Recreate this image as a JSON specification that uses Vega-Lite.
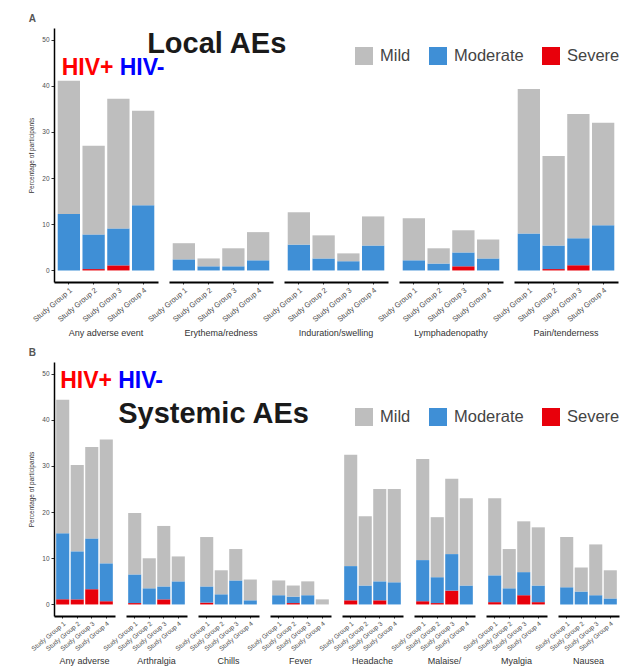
{
  "$schema": "https://vega.github.io/schema/vega-lite/v6.json",
  "background": "white",
  "padding": {"left": 28, "top": 14, "right": 0, "bottom": 0},
  "config": {
    "view": {"stroke": null},
    "font": "Liberation Sans",
    "axisY": {
      "grid": false,
      "domainColor": "#000000",
      "domainWidth": 1.5,
      "tickColor": "#333333",
      "tickSize": 3,
      "labelFontSize": 6.5,
      "labelColor": "#4d4d4d",
      "labelPadding": 2,
      "titleFontSize": 6.5,
      "titleFontWeight": "normal",
      "titleColor": "#333333",
      "titlePadding": 7
    },
    "axisX": {
      "grid": false,
      "domainColor": "#000000",
      "domainWidth": 2,
      "tickColor": "#333333",
      "tickSize": 2,
      "labelAngle": -40,
      "labelColor": "#4d4d4d",
      "labelPadding": 2,
      "title": null
    },
    "header": {
      "labelOrient": "bottom",
      "labelFontSize": 9,
      "labelColor": "#333333"
    },
    "title": {"anchor": "start", "frame": "bounds", "fontSize": 10, "fontWeight": "bold", "color": "#555555", "offset": 4}
  },
  "datasets": {
    "local": [
      {"category": "Any adverse event", "group": "Study Group 1", "severity": "Moderate", "pct": 12.2},
      {"category": "Any adverse event", "group": "Study Group 1", "severity": "Mild", "pct": 28.9},
      {"category": "Any adverse event", "group": "Study Group 2", "severity": "Severe", "pct": 0.3},
      {"category": "Any adverse event", "group": "Study Group 2", "severity": "Moderate", "pct": 7.5},
      {"category": "Any adverse event", "group": "Study Group 2", "severity": "Mild", "pct": 19.2},
      {"category": "Any adverse event", "group": "Study Group 3", "severity": "Severe", "pct": 1.1},
      {"category": "Any adverse event", "group": "Study Group 3", "severity": "Moderate", "pct": 8.0},
      {"category": "Any adverse event", "group": "Study Group 3", "severity": "Mild", "pct": 28.1},
      {"category": "Any adverse event", "group": "Study Group 4", "severity": "Moderate", "pct": 14.1},
      {"category": "Any adverse event", "group": "Study Group 4", "severity": "Mild", "pct": 20.5},
      {"category": "Erythema/redness", "group": "Study Group 1", "severity": "Moderate", "pct": 2.4},
      {"category": "Erythema/redness", "group": "Study Group 1", "severity": "Mild", "pct": 3.5},
      {"category": "Erythema/redness", "group": "Study Group 2", "severity": "Moderate", "pct": 0.9},
      {"category": "Erythema/redness", "group": "Study Group 2", "severity": "Mild", "pct": 1.7},
      {"category": "Erythema/redness", "group": "Study Group 3", "severity": "Moderate", "pct": 0.9},
      {"category": "Erythema/redness", "group": "Study Group 3", "severity": "Mild", "pct": 3.9},
      {"category": "Erythema/redness", "group": "Study Group 4", "severity": "Moderate", "pct": 2.2},
      {"category": "Erythema/redness", "group": "Study Group 4", "severity": "Mild", "pct": 6.1},
      {"category": "Induration/swelling", "group": "Study Group 1", "severity": "Moderate", "pct": 5.6},
      {"category": "Induration/swelling", "group": "Study Group 1", "severity": "Mild", "pct": 7.0},
      {"category": "Induration/swelling", "group": "Study Group 2", "severity": "Moderate", "pct": 2.6},
      {"category": "Induration/swelling", "group": "Study Group 2", "severity": "Mild", "pct": 5.0},
      {"category": "Induration/swelling", "group": "Study Group 3", "severity": "Moderate", "pct": 2.0},
      {"category": "Induration/swelling", "group": "Study Group 3", "severity": "Mild", "pct": 1.7},
      {"category": "Induration/swelling", "group": "Study Group 4", "severity": "Moderate", "pct": 5.4},
      {"category": "Induration/swelling", "group": "Study Group 4", "severity": "Mild", "pct": 6.3},
      {"category": "Lymphadenopathy", "group": "Study Group 1", "severity": "Moderate", "pct": 2.2},
      {"category": "Lymphadenopathy", "group": "Study Group 1", "severity": "Mild", "pct": 9.1},
      {"category": "Lymphadenopathy", "group": "Study Group 2", "severity": "Moderate", "pct": 1.5},
      {"category": "Lymphadenopathy", "group": "Study Group 2", "severity": "Mild", "pct": 3.3},
      {"category": "Lymphadenopathy", "group": "Study Group 3", "severity": "Severe", "pct": 0.9},
      {"category": "Lymphadenopathy", "group": "Study Group 3", "severity": "Moderate", "pct": 3.0},
      {"category": "Lymphadenopathy", "group": "Study Group 3", "severity": "Mild", "pct": 4.8},
      {"category": "Lymphadenopathy", "group": "Study Group 4", "severity": "Moderate", "pct": 2.6},
      {"category": "Lymphadenopathy", "group": "Study Group 4", "severity": "Mild", "pct": 4.1},
      {"category": "Pain/tenderness", "group": "Study Group 1", "severity": "Moderate", "pct": 8.0},
      {"category": "Pain/tenderness", "group": "Study Group 1", "severity": "Mild", "pct": 31.3},
      {"category": "Pain/tenderness", "group": "Study Group 2", "severity": "Severe", "pct": 0.3},
      {"category": "Pain/tenderness", "group": "Study Group 2", "severity": "Moderate", "pct": 5.1},
      {"category": "Pain/tenderness", "group": "Study Group 2", "severity": "Mild", "pct": 19.4},
      {"category": "Pain/tenderness", "group": "Study Group 3", "severity": "Severe", "pct": 1.1},
      {"category": "Pain/tenderness", "group": "Study Group 3", "severity": "Moderate", "pct": 5.9},
      {"category": "Pain/tenderness", "group": "Study Group 3", "severity": "Mild", "pct": 26.9},
      {"category": "Pain/tenderness", "group": "Study Group 4", "severity": "Moderate", "pct": 9.8},
      {"category": "Pain/tenderness", "group": "Study Group 4", "severity": "Mild", "pct": 22.2}
    ],
    "systemic": [
      {"category": "Any adverse event", "group": "Study Group 1", "severity": "Severe", "pct": 1.1},
      {"category": "Any adverse event", "group": "Study Group 1", "severity": "Moderate", "pct": 14.3},
      {"category": "Any adverse event", "group": "Study Group 1", "severity": "Mild", "pct": 28.9},
      {"category": "Any adverse event", "group": "Study Group 2", "severity": "Severe", "pct": 1.1},
      {"category": "Any adverse event", "group": "Study Group 2", "severity": "Moderate", "pct": 10.4},
      {"category": "Any adverse event", "group": "Study Group 2", "severity": "Mild", "pct": 18.7},
      {"category": "Any adverse event", "group": "Study Group 3", "severity": "Severe", "pct": 3.3},
      {"category": "Any adverse event", "group": "Study Group 3", "severity": "Moderate", "pct": 11.0},
      {"category": "Any adverse event", "group": "Study Group 3", "severity": "Mild", "pct": 19.8},
      {"category": "Any adverse event", "group": "Study Group 4", "severity": "Severe", "pct": 0.7},
      {"category": "Any adverse event", "group": "Study Group 4", "severity": "Moderate", "pct": 8.2},
      {"category": "Any adverse event", "group": "Study Group 4", "severity": "Mild", "pct": 26.8},
      {"category": "Arthralgia", "group": "Study Group 1", "severity": "Severe", "pct": 0.3},
      {"category": "Arthralgia", "group": "Study Group 1", "severity": "Moderate", "pct": 6.2},
      {"category": "Arthralgia", "group": "Study Group 1", "severity": "Mild", "pct": 13.3},
      {"category": "Arthralgia", "group": "Study Group 2", "severity": "Moderate", "pct": 3.5},
      {"category": "Arthralgia", "group": "Study Group 2", "severity": "Mild", "pct": 6.5},
      {"category": "Arthralgia", "group": "Study Group 3", "severity": "Severe", "pct": 1.1},
      {"category": "Arthralgia", "group": "Study Group 3", "severity": "Moderate", "pct": 2.8},
      {"category": "Arthralgia", "group": "Study Group 3", "severity": "Mild", "pct": 13.1},
      {"category": "Arthralgia", "group": "Study Group 4", "severity": "Moderate", "pct": 5.0},
      {"category": "Arthralgia", "group": "Study Group 4", "severity": "Mild", "pct": 5.4},
      {"category": "Chills", "group": "Study Group 1", "severity": "Severe", "pct": 0.4},
      {"category": "Chills", "group": "Study Group 1", "severity": "Moderate", "pct": 3.5},
      {"category": "Chills", "group": "Study Group 1", "severity": "Mild", "pct": 10.7},
      {"category": "Chills", "group": "Study Group 2", "severity": "Moderate", "pct": 2.2},
      {"category": "Chills", "group": "Study Group 2", "severity": "Mild", "pct": 5.2},
      {"category": "Chills", "group": "Study Group 3", "severity": "Moderate", "pct": 5.2},
      {"category": "Chills", "group": "Study Group 3", "severity": "Mild", "pct": 6.8},
      {"category": "Chills", "group": "Study Group 4", "severity": "Moderate", "pct": 0.9},
      {"category": "Chills", "group": "Study Group 4", "severity": "Mild", "pct": 4.5},
      {"category": "Fever", "group": "Study Group 1", "severity": "Moderate", "pct": 2.0},
      {"category": "Fever", "group": "Study Group 1", "severity": "Mild", "pct": 3.2},
      {"category": "Fever", "group": "Study Group 2", "severity": "Severe", "pct": 0.3},
      {"category": "Fever", "group": "Study Group 2", "severity": "Moderate", "pct": 1.4},
      {"category": "Fever", "group": "Study Group 2", "severity": "Mild", "pct": 2.4},
      {"category": "Fever", "group": "Study Group 3", "severity": "Moderate", "pct": 2.0},
      {"category": "Fever", "group": "Study Group 3", "severity": "Mild", "pct": 3.0},
      {"category": "Fever", "group": "Study Group 4", "severity": "Mild", "pct": 1.1},
      {"category": "Headache", "group": "Study Group 1", "severity": "Severe", "pct": 0.9},
      {"category": "Headache", "group": "Study Group 1", "severity": "Moderate", "pct": 7.4},
      {"category": "Headache", "group": "Study Group 1", "severity": "Mild", "pct": 24.1},
      {"category": "Headache", "group": "Study Group 2", "severity": "Moderate", "pct": 4.1},
      {"category": "Headache", "group": "Study Group 2", "severity": "Mild", "pct": 15.0},
      {"category": "Headache", "group": "Study Group 3", "severity": "Severe", "pct": 0.9},
      {"category": "Headache", "group": "Study Group 3", "severity": "Moderate", "pct": 4.1},
      {"category": "Headache", "group": "Study Group 3", "severity": "Mild", "pct": 20.0},
      {"category": "Headache", "group": "Study Group 4", "severity": "Moderate", "pct": 4.8},
      {"category": "Headache", "group": "Study Group 4", "severity": "Mild", "pct": 20.2},
      {"category": "Malaise/fatigue", "group": "Study Group 1", "severity": "Severe", "pct": 0.7},
      {"category": "Malaise/fatigue", "group": "Study Group 1", "severity": "Moderate", "pct": 8.9},
      {"category": "Malaise/fatigue", "group": "Study Group 1", "severity": "Mild", "pct": 21.9},
      {"category": "Malaise/fatigue", "group": "Study Group 2", "severity": "Severe", "pct": 0.3},
      {"category": "Malaise/fatigue", "group": "Study Group 2", "severity": "Moderate", "pct": 5.6},
      {"category": "Malaise/fatigue", "group": "Study Group 2", "severity": "Mild", "pct": 13.0},
      {"category": "Malaise/fatigue", "group": "Study Group 3", "severity": "Severe", "pct": 3.0},
      {"category": "Malaise/fatigue", "group": "Study Group 3", "severity": "Moderate", "pct": 7.9},
      {"category": "Malaise/fatigue", "group": "Study Group 3", "severity": "Mild", "pct": 16.3},
      {"category": "Malaise/fatigue", "group": "Study Group 4", "severity": "Moderate", "pct": 4.1},
      {"category": "Malaise/fatigue", "group": "Study Group 4", "severity": "Mild", "pct": 18.9},
      {"category": "Myalgia", "group": "Study Group 1", "severity": "Severe", "pct": 0.5},
      {"category": "Myalgia", "group": "Study Group 1", "severity": "Moderate", "pct": 5.8},
      {"category": "Myalgia", "group": "Study Group 1", "severity": "Mild", "pct": 16.7},
      {"category": "Myalgia", "group": "Study Group 2", "severity": "Moderate", "pct": 3.5},
      {"category": "Myalgia", "group": "Study Group 2", "severity": "Mild", "pct": 8.5},
      {"category": "Myalgia", "group": "Study Group 3", "severity": "Severe", "pct": 2.0},
      {"category": "Myalgia", "group": "Study Group 3", "severity": "Moderate", "pct": 5.0},
      {"category": "Myalgia", "group": "Study Group 3", "severity": "Mild", "pct": 11.0},
      {"category": "Myalgia", "group": "Study Group 4", "severity": "Severe", "pct": 0.5},
      {"category": "Myalgia", "group": "Study Group 4", "severity": "Moderate", "pct": 3.6},
      {"category": "Myalgia", "group": "Study Group 4", "severity": "Mild", "pct": 12.6},
      {"category": "Nausea", "group": "Study Group 1", "severity": "Moderate", "pct": 3.7},
      {"category": "Nausea", "group": "Study Group 1", "severity": "Mild", "pct": 10.9},
      {"category": "Nausea", "group": "Study Group 2", "severity": "Moderate", "pct": 2.8},
      {"category": "Nausea", "group": "Study Group 2", "severity": "Mild", "pct": 5.2},
      {"category": "Nausea", "group": "Study Group 3", "severity": "Moderate", "pct": 2.0},
      {"category": "Nausea", "group": "Study Group 3", "severity": "Mild", "pct": 11.0},
      {"category": "Nausea", "group": "Study Group 4", "severity": "Moderate", "pct": 1.3},
      {"category": "Nausea", "group": "Study Group 4", "severity": "Mild", "pct": 6.1}
    ]
  },
  "resolve": {"legend": {"color": "independent"}},
  "spacing": 10,
  "vconcat": [
    {
      "data": {"name": "local"},
      "title": {"text": "A"},
      "bounds": "flush",
      "facet": {
        "column": {
          "field": "category",
          "type": "nominal",
          "sort": ["Any adverse event", "Erythema/redness", "Induration/swelling", "Lymphadenopathy", "Pain/tenderness"],
          "header": {"title": null, "labelPadding": 6}
        }
      },
      "spacing": {"column": 11},
      "spec": {
        "width": 104,
        "height": 254,
        "layer": [
          {
            "mark": {"type": "bar"},
            "encoding": {
              "x": {
                "field": "group", "type": "nominal",
                "scale": {"paddingInner": 0.1, "paddingOuter": 0.15},
                "axis": {"labelFontSize": 7.5}
              },
              "y": {
                "field": "pct", "type": "quantitative", "stack": "zero",
                "scale": {"domain": [-2.5, 52.5], "nice": false, "zero": false},
                "axis": {"values": [0, 10, 20, 30, 40, 50], "title": "Percentage of participants"}
              },
              "color": {
                "field": "severity", "type": "nominal",
                "scale": {"domain": ["Mild", "Moderate", "Severe"], "range": ["#bebebe", "#3f8fd6", "#e8000b"]},
                "legend": {
                  "orient": "none", "legendX": 301, "legendY": 19, "direction": "horizontal",
                  "title": null, "symbolType": "square", "symbolSize": 324, "symbolStrokeWidth": 0,
                  "symbolOpacity": 1, "labelFontSize": 16.5, "labelColor": "#444444", "labelOffset": 7, "columnPadding": 18
                }
              },
              "order": {"field": "severity", "sort": "descending"}
            }
          },
          {
            "transform": [{"filter": "datum.category == 'Any adverse event' && datum.group == 'Study Group 1' && datum.severity == 'Mild'"}],
            "mark": {"type": "text", "align": "left", "baseline": "alphabetic", "fontSize": 29, "fontWeight": "bold", "color": "#1a1a1a", "dx": 4},
            "encoding": {
              "x": {"datum": "Study Group 4", "bandPosition": 0.5},
              "y": {"datum": 47},
              "text": {"value": "Local AEs"}
            }
          },
          {
            "transform": [{"filter": "datum.category == 'Any adverse event' && datum.group == 'Study Group 1' && datum.severity == 'Mild'"}],
            "mark": {"type": "text", "align": "left", "baseline": "alphabetic", "fontSize": 23, "fontWeight": "bold", "color": "#ff0000", "dx": 4},
            "encoding": {
              "x": {"datum": "Study Group 1", "bandPosition": 0},
              "y": {"datum": 42.3},
              "text": {"value": "HIV+"}
            }
          },
          {
            "transform": [{"filter": "datum.category == 'Any adverse event' && datum.group == 'Study Group 1' && datum.severity == 'Mild'"}],
            "mark": {"type": "text", "align": "left", "baseline": "alphabetic", "fontSize": 23, "fontWeight": "bold", "color": "#0000ff", "dx": 62},
            "encoding": {
              "x": {"datum": "Study Group 1", "bandPosition": 0},
              "y": {"datum": 42.3},
              "text": {"value": "HIV-"}
            }
          }
        ]
      }
    },
    {
      "data": {"name": "systemic"},
      "title": {"text": "B"},
      "bounds": "flush",
      "facet": {
        "column": {
          "field": "category",
          "type": "nominal",
          "sort": ["Any adverse event", "Arthralgia", "Chills", "Fever", "Headache", "Malaise/fatigue", "Myalgia", "Nausea"],
          "header": {
            "title": null,
            "labelPadding": 5,
            "labelExpr": "datum.value == 'Any adverse event' ? ['Any adverse', 'event'] : datum.value == 'Malaise/fatigue' ? ['Malaise/', 'fatigue'] : datum.value"
          }
        }
      },
      "spacing": {"column": 11},
      "spec": {
        "width": 61,
        "height": 254,
        "layer": [
          {
            "mark": {"type": "bar"},
            "encoding": {
              "x": {
                "field": "group", "type": "nominal",
                "scale": {"paddingInner": 0.1, "paddingOuter": 0.15},
                "axis": {"labelFontSize": 6.5}
              },
              "y": {
                "field": "pct", "type": "quantitative", "stack": "zero",
                "scale": {"domain": [-2.5, 52.5], "nice": false, "zero": false},
                "axis": {"values": [0, 10, 20, 30, 40, 50], "title": "Percentage of participants"}
              },
              "color": {
                "field": "severity", "type": "nominal",
                "scale": {"domain": ["Mild", "Moderate", "Severe"], "range": ["#bebebe", "#3f8fd6", "#e8000b"]},
                "legend": {
                  "orient": "none", "legendX": 301, "legendY": 46, "direction": "horizontal",
                  "title": null, "symbolType": "square", "symbolSize": 324, "symbolStrokeWidth": 0,
                  "symbolOpacity": 1, "labelFontSize": 16.5, "labelColor": "#444444", "labelOffset": 7, "columnPadding": 18
                }
              },
              "order": {"field": "severity", "sort": "descending"}
            }
          },
          {
            "transform": [{"filter": "datum.category == 'Any adverse event' && datum.group == 'Study Group 1' && datum.severity == 'Mild'"}],
            "mark": {"type": "text", "align": "left", "baseline": "alphabetic", "fontSize": 29, "fontWeight": "bold", "color": "#1a1a1a", "dx": 62},
            "encoding": {
              "x": {"datum": "Study Group 1", "bandPosition": 0},
              "y": {"datum": 39.3},
              "text": {"value": "Systemic AEs"}
            }
          },
          {
            "transform": [{"filter": "datum.category == 'Any adverse event' && datum.group == 'Study Group 1' && datum.severity == 'Mild'"}],
            "mark": {"type": "text", "align": "left", "baseline": "alphabetic", "fontSize": 23, "fontWeight": "bold", "color": "#ff0000", "dx": 4},
            "encoding": {
              "x": {"datum": "Study Group 1", "bandPosition": 0},
              "y": {"datum": 46.8},
              "text": {"value": "HIV+"}
            }
          },
          {
            "transform": [{"filter": "datum.category == 'Any adverse event' && datum.group == 'Study Group 1' && datum.severity == 'Mild'"}],
            "mark": {"type": "text", "align": "left", "baseline": "alphabetic", "fontSize": 23, "fontWeight": "bold", "color": "#0000ff", "dx": 62},
            "encoding": {
              "x": {"datum": "Study Group 1", "bandPosition": 0},
              "y": {"datum": 46.8},
              "text": {"value": "HIV-"}
            }
          }
        ]
      }
    }
  ]
}
